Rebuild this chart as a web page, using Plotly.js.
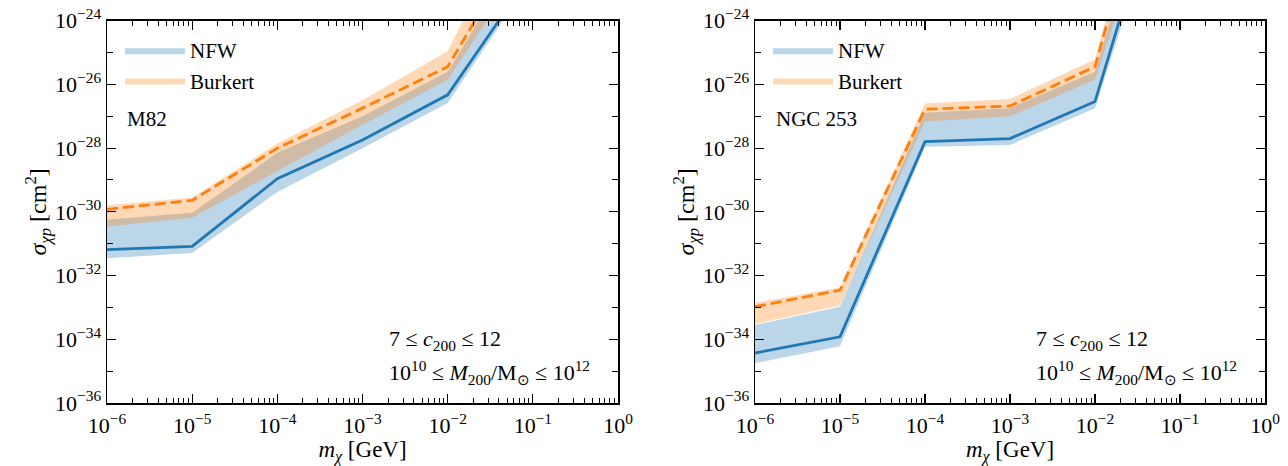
<!DOCTYPE html>
<html>
<head>
<meta charset="utf-8">
<script src="https://cdn.plot.ly/plotly-3.0.1.min.js"></script>
<style>html,body{margin:0;padding:0;background:#fff}#plot{width:1288px;height:466px}</style>
</head>
<body>
<div id="plot"></div>
<script>
// dark matter mass grid [GeV]
const mChi = [1e-6, 1e-5, 1e-4, 1e-3, 1e-2, 1e-1];

// M82 limits sigma_chi-p [cm^2]
const m82_nfw      = [6.5e-32, 8.3e-32, 1.1e-29, 1.8e-28, 4.7e-27, 3.5e-23];
const m82_nfw_lo   = [3.5e-32, 5.1e-32, 4.2e-30, 1.0e-28, 2.6e-27, 2.5e-23];
const m82_nfw_hi   = [5.6e-31, 9.3e-31, 7.1e-29, 1.0e-27, 2.5e-26, 6.0e-22];
const m82_bur      = [1.2e-30, 2.3e-30, 1.0e-28, 1.8e-27, 3.6e-26, 1.1e-21];
const m82_bur_lo   = [3.5e-31, 6.5e-31, 1.9e-29, 5.4e-28, 1.4e-26, 1.4e-22];
const m82_bur_hi   = [1.6e-30, 2.8e-30, 1.4e-28, 3.2e-27, 1.1e-25, 2.5e-20];

// NGC 253 limits
const ngc_nfw      = [3.7e-35, 1.2e-34, 1.6e-28, 2.0e-28, 2.9e-27, 2.0e-18];
const ngc_nfw_lo   = [1.8e-35, 6.0e-35, 1.1e-28, 1.26e-28, 1.8e-27, 3.5e-19];
const ngc_nfw_hi   = [2.8e-34, 1.05e-33, 1.3e-27, 1.8e-27, 2.5e-26, 2.0e-17];
const ngc_bur      = [1.05e-33, 3.5e-33, 1.66e-27, 2.1e-27, 3.6e-26, 1.4e-16];
const ngc_bur_lo   = [3.0e-34, 1.15e-33, 6.9e-28, 1.0e-27, 1.4e-26, 1.3e-18];
const ngc_bur_hi   = [1.4e-33, 4.2e-33, 2.5e-27, 3.5e-27, 6.2e-26, 6.0e-16];

const panelNames = ["M82", "NGC 253"];
const legendNames = ["NFW", "Burkert"];
const xTickExp = [-6, -5, -4, -3, -2, -1, 0];
const yTickExp = [-36, -34, -32, -30, -28, -26, -24];
const yMinorExp = [-35, -33, -31, -29, -27, -25];
const annoLine1 = "7 ≤ <i>c</i><sub>200</sub> ≤ 12";
const annoLine2 = "10<sup>10</sup> ≤ <i>M</i><sub>200</sub>/M<sub>⊙</sub> ≤ 10<sup>12</sup>";

const BLUE = "#1f77b4", ORANGE = "#ff7f0e";
const BLUE_F = "rgba(31,119,180,0.3)", ORANGE_F = "rgba(255,127,14,0.3)";
const FONT = "Liberation Serif";

function panelTraces(xa, ya, leg, nfw, nlo, nhi, bur, blo, bhi) {
  const base = {x: mChi, xaxis: xa, yaxis: ya, mode: "lines", legend: leg, hoverinfo: "skip"};
  return [
    Object.assign({}, base, {y: nlo, line: {width: 0, color: BLUE}, showlegend: false, legendgroup: leg + "n"}),
    Object.assign({}, base, {y: nhi, line: {width: 0, color: BLUE}, fill: "tonexty", fillcolor: BLUE_F, name: legendNames[0], legendgroup: leg + "n"}),
    Object.assign({}, base, {y: blo, line: {width: 0, color: ORANGE}, showlegend: false, legendgroup: leg + "b"}),
    Object.assign({}, base, {y: bhi, line: {width: 0, color: ORANGE}, fill: "tonexty", fillcolor: ORANGE_F, name: legendNames[1], legendgroup: leg + "b"}),
    Object.assign({}, base, {y: nfw, line: {width: 2.8, color: BLUE}, showlegend: false}),
    Object.assign({}, base, {y: bur, line: {width: 2.8, color: ORANGE, dash: "11px,5px"}, showlegend: false})
  ];
}

const data = [].concat(
  panelTraces("x", "y", "legend", m82_nfw, m82_nfw_lo, m82_nfw_hi, m82_bur, m82_bur_lo, m82_bur_hi),
  panelTraces("x2", "y2", "legend2", ngc_nfw, ngc_nfw_lo, ngc_nfw_hi, ngc_bur, ngc_bur_lo, ngc_bur_hi)
);

const xMinor = [];
for (let k = -6; k < 0; k++) for (let m = 2; m <= 9; m++) xMinor.push(m * Math.pow(10, k));

const W = 1288, H = 466;
function xAxis(dom) {
  return {
    type: "log", range: [-6, 0], domain: dom, automargin: false,
    tickmode: "array", tickvals: xTickExp.map(e => Math.pow(10, e)),
    ticktext: xTickExp.map(e => "10<sup>" + (e < 0 ? "−" + (-e) : e) + "</sup>"),
    ticks: "inside", ticklen: 9, tickwidth: 1.2, tickcolor: "#000", ticklabelstandoff: 2,
    minor: {tickmode: "array", tickvals: xMinor, ticks: "inside", ticklen: 5, tickwidth: 1, tickcolor: "#000", showgrid: false},
    showline: true, linecolor: "#000", linewidth: 1.5, mirror: "ticks", showgrid: false, zeroline: false,
    tickfont: {family: FONT, size: 22, color: "#000"},
    title: {text: "<i>m</i><sub><i>χ</i></sub> [GeV]", font: {family: FONT, size: 23, color: "#000"}, standoff: 11}
  };
}
function yAxis(anchor) {
  return {
    type: "log", range: [-36, -24], domain: [1 - 403 / H, 1 - 20.7 / H], anchor: anchor, automargin: false,
    tickmode: "array", tickvals: yTickExp.map(e => Math.pow(10, e)),
    ticktext: yTickExp.map(e => "10<sup>−" + (-e) + "</sup>"),
    ticks: "inside", ticklen: 9, tickwidth: 1.2, tickcolor: "#000",
    minor: {tickmode: "array", tickvals: yMinorExp.map(e => Math.pow(10, e)), ticks: "inside", ticklen: 6, tickwidth: 1, tickcolor: "#000", showgrid: false},
    showline: true, linecolor: "#000", linewidth: 1.5, mirror: "ticks", showgrid: false, zeroline: false,
    tickfont: {family: FONT, size: 22, color: "#000"},
    title: {text: "<i>σ</i><sub><i>χp</i></sub> [cm<sup>2</sup>]", font: {family: FONT, size: 24, color: "#000"}, standoff: 0}
  };
}
function legendCfg(xpx) {
  return {x: xpx / W, y: 1 - 30 / H, xanchor: "left", yanchor: "top", bgcolor: "rgba(0,0,0,0)",
    font: {family: FONT, size: 21, color: "#000"}, itemwidth: 60, tracegroupgap: 8, traceorder: "normal"};
}

const layout = {
  width: W, height: H, margin: {l: 0, r: 0, t: 0, b: 0},
  paper_bgcolor: "#fff", plot_bgcolor: "#fff", font: {family: FONT, color: "#000"},
  xaxis: Object.assign(xAxis([107 / W, 618 / W]), {anchor: "y"}),
  yaxis: yAxis("x"),
  xaxis2: Object.assign(xAxis([755 / W, 1265 / W]), {anchor: "y2"}),
  yaxis2: yAxis("x2"),
  legend: legendCfg(120),
  legend2: legendCfg(768),
  annotations: [
    {text: panelNames[0], xref: "paper", yref: "paper", x: 125 / W, y: 1 - 119 / H, xanchor: "left", yanchor: "middle", showarrow: false, font: {family: FONT, size: 21, color: "#000"}},
    {text: panelNames[1], xref: "paper", yref: "paper", x: 774 / W, y: 1 - 119 / H, xanchor: "left", yanchor: "middle", showarrow: false, font: {family: FONT, size: 21, color: "#000"}},
    {text: annoLine1, xref: "paper", yref: "paper", x: 387 / W, y: 1 - 340 / H, xanchor: "left", yanchor: "middle", showarrow: false, font: {family: FONT, size: 22, color: "#000"}},
    {text: annoLine2, xref: "paper", yref: "paper", x: 387 / W, y: 1 - 372 / H, xanchor: "left", yanchor: "middle", showarrow: false, font: {family: FONT, size: 22, color: "#000"}},
    {text: annoLine1, xref: "paper", yref: "paper", x: 1034 / W, y: 1 - 340 / H, xanchor: "left", yanchor: "middle", showarrow: false, font: {family: FONT, size: 22, color: "#000"}},
    {text: annoLine2, xref: "paper", yref: "paper", x: 1034 / W, y: 1 - 372 / H, xanchor: "left", yanchor: "middle", showarrow: false, font: {family: FONT, size: 22, color: "#000"}}
  ],
  showlegend: true
};

Plotly.newPlot("plot", data, layout, {displayModeBar: false, staticPlot: true});
</script>
</body>
</html>
